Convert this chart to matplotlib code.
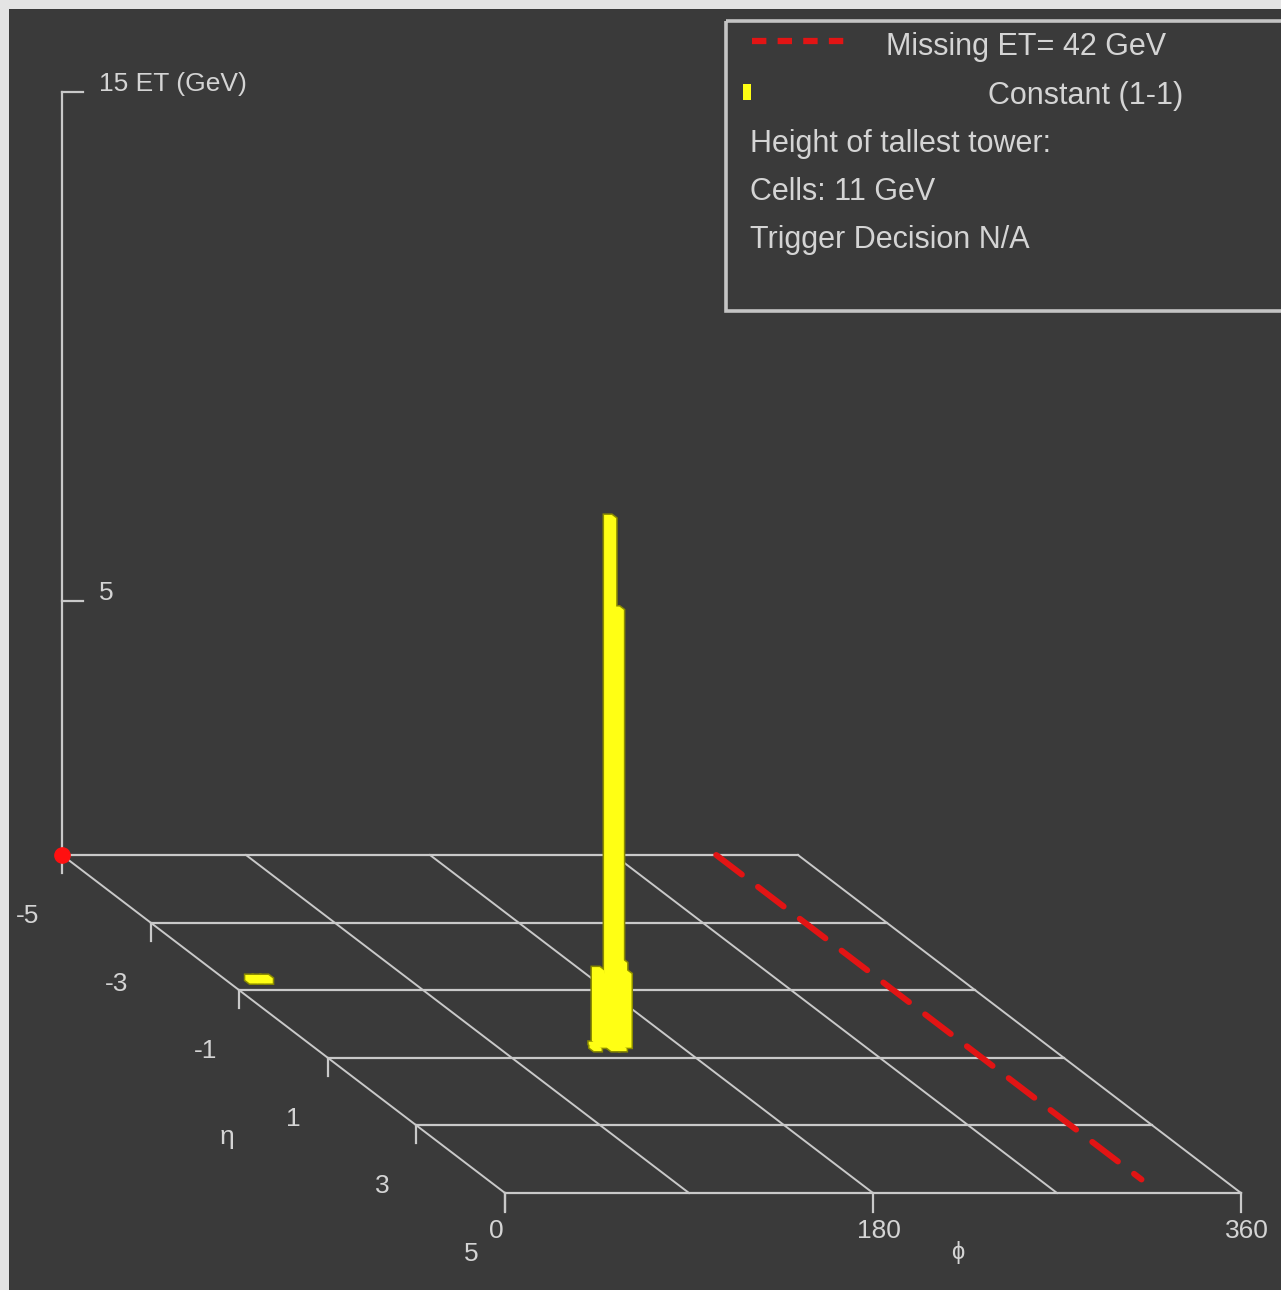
import numpy as np
import matplotlib
matplotlib.use("Agg")
import matplotlib.pyplot as plt
from matplotlib.patches import Rectangle, Polygon

# ---------------- data ----------------
eta_grid = [-5, -3, -1, 1, 3, 5]
eta_tick_labels = ['-5', '-3', '-1', '1', '3', '5']
phi_grid = [0, 90, 180, 270, 360]
phi_ticks = [0, 180, 360]
phi_tick_labels = ['0', '180', '360']
z_ticks = [5, 15]
z_tick_labels = ['5', '15 ET (GeV)']

# calorimeter towers (lower eta edge, lower phi edge, ET in GeV)
tower_eta = [-1.3, -1.3, -1.3, 0.5, 0.5, 0.6, 0.6, 0.6, 0.6, 0.6, 0.7, 0.7, 0.7]
tower_phi = [9.5, 13.25, 17.0, 140.05, 151.3, 136.3, 140.05, 143.8, 147.55, 151.3, 134.5, 143.0, 146.75]
tower_et = [0.1, 0.1, 0.1, 1.45, 1.6, 0.05, 1.4, 10.4, 8.6, 1.45, 0.05, 0.05, 0.05]

met_phi = 320.0
met_eta_range = [-5.0, 4.6]
met_value = 42
tallest_cells = 11
legend_lines = ["Height of tallest tower:", f"Cells: {tallest_cells} GeV", "Trigger Decision N/A"]

# ---------------- style / projection ----------------
W, H = 1281, 1290
BG = '#3a3a3a'
FRAME = '#e4e4e4'
LINE = '#c9c9c9'
TXT = '#d4d4d4'
YEL = '#ffff14'
DPHI, DETA = 3.75, 0.1
X0, Y0 = 62.0, 855.0
SX = 736.0 / 360.0
EX, EY = 44.3, 33.8
SZ = 50.9
FS_AX = 19
FS_LEG = 22


def proj(phi, eta, z=0.0):
    phi = np.asarray(phi, float)
    eta = np.asarray(eta, float)
    z = np.asarray(z, float)
    return X0 + phi * SX + (eta + 5) * EX, Y0 + (eta + 5) * EY - z * SZ


def hull(pts):
    pts = sorted(set(map(tuple, pts)))
    def cross(o, a, b):
        return (a[0]-o[0])*(b[1]-o[1]) - (a[1]-o[1])*(b[0]-o[0])
    lower, upper = [], []
    for p in pts:
        while len(lower) >= 2 and cross(lower[-2], lower[-1], p) <= 0:
            lower.pop()
        lower.append(p)
    for p in reversed(pts):
        while len(upper) >= 2 and cross(upper[-2], upper[-1], p) <= 0:
            upper.pop()
        upper.append(p)
    return lower[:-1] + upper[:-1]


plt.rcParams['font.family'] = ['Liberation Sans', 'DejaVu Sans']
fig = plt.figure(figsize=(W / 100, H / 100), dpi=100, facecolor=FRAME)
ax = fig.add_axes([0, 0, 1, 1])
ax.set_xlim(0, W)
ax.set_ylim(H, 0)
ax.axis('off')
ax.add_patch(Rectangle((9, 9), W, H, facecolor=BG, edgecolor='none', zorder=0))

# grid
for e in eta_grid:
    x, y = proj([0, 360], [e, e])
    ax.plot(x, y, color=LINE, lw=1.6, zorder=2)
for p in phi_grid:
    x, y = proj([p, p], [-5, 5])
    ax.plot(x, y, color=LINE, lw=1.4, zorder=2)

# eta ticks and labels
for e, lab in zip(eta_grid, eta_tick_labels):
    x, y = proj(0, e)
    ax.plot([x, x], [y, y + 18], color=LINE, lw=1.6, zorder=2)
    ax.text(x - 34, y + 61, lab, color=TXT, fontsize=FS_AX, ha='center', va='center')
x, y = proj(0, 1)
ax.text(x - 101, y + 79, 'η', color=TXT, fontsize=FS_AX, ha='center', va='center')

# phi ticks and labels
for p, lab in zip(phi_ticks, phi_tick_labels):
    x, y = proj(p, 5)
    ax.plot([x, x], [y, y + 19], color=LINE, lw=1.6, zorder=2)
    ax.text(x - 16, y + 38, lab, color=TXT, fontsize=FS_AX, ha='left', va='center')
x, y = proj(270, 5)
ax.text(x - 99, y + 59, 'ϕ', color=TXT, fontsize=17, ha='center', va='center')

# z axis
x0, y0 = proj(0, -5, 0)
_, ytop = proj(0, -5, max(z_ticks))
ax.plot([x0, x0], [y0, ytop], color=LINE, lw=1.6, zorder=2)
for zt, lab in zip(z_ticks, z_tick_labels):
    _, yz = proj(0, -5, zt)
    ax.plot([x0, x0 + 21], [yz, yz], color=LINE, lw=1.6, zorder=2)
    ax.text(x0 + 37, yz - 8, lab, color=TXT, fontsize=FS_AX, ha='left', va='center')
ax.plot([x0], [y0], 'o', color='#ff1010', markersize=11, zorder=6)

# towers
polys = []
for e, p, et in zip(tower_eta, tower_phi, tower_et):
    pts = []
    for pp in (p, p + DPHI):
        for ee in (e, e + DETA):
            for zz in (0.0, et):
                pts.append(tuple(np.round(proj(pp, ee, zz), 3)))
    polys.append(hull(pts))
for poly in polys:
    ax.add_patch(Polygon(poly, closed=True, facecolor='#8a8a00', edgecolor='#8a8a00',
                         lw=2.2, zorder=4, joinstyle='miter'))
for poly in polys:
    ax.add_patch(Polygon(poly, closed=True, facecolor=YEL, edgecolor='none', zorder=5))

# missing ET line
mx, my = proj([met_phi, met_phi], met_eta_range)
ax.plot(mx, my, color='#e21414', lw=4.3, linestyle=(0, (5.4, 3.4)),
        dash_capstyle='round', zorder=3)

# legend box
ax.add_patch(Rectangle((726, 21), 600, 290, facecolor='none', edgecolor='#c4c4c4', lw=2.6, zorder=7))
ax.plot([752, 852], [41, 41], color='#e21414', lw=4.5, linestyle=(0, (2.3, 1.8)), zorder=8)
ax.text(886, 47, f"Missing ET= {met_value} GeV", color=TXT, fontsize=FS_LEG, ha='left', va='center', zorder=8)
ax.add_patch(Rectangle((743, 84), 8, 16, facecolor=YEL, edgecolor='none', zorder=8))
ax.text(988, 96, "Constant (1-1)", color=TXT, fontsize=FS_LEG, ha='left', va='center', zorder=8)
for i, t in enumerate(legend_lines):
    ax.text(750, 144 + 48 * i, t, color=TXT, fontsize=FS_LEG, ha='left', va='center', zorder=8)

fig.savefig('out.png', dpi=100, facecolor=FRAME)
